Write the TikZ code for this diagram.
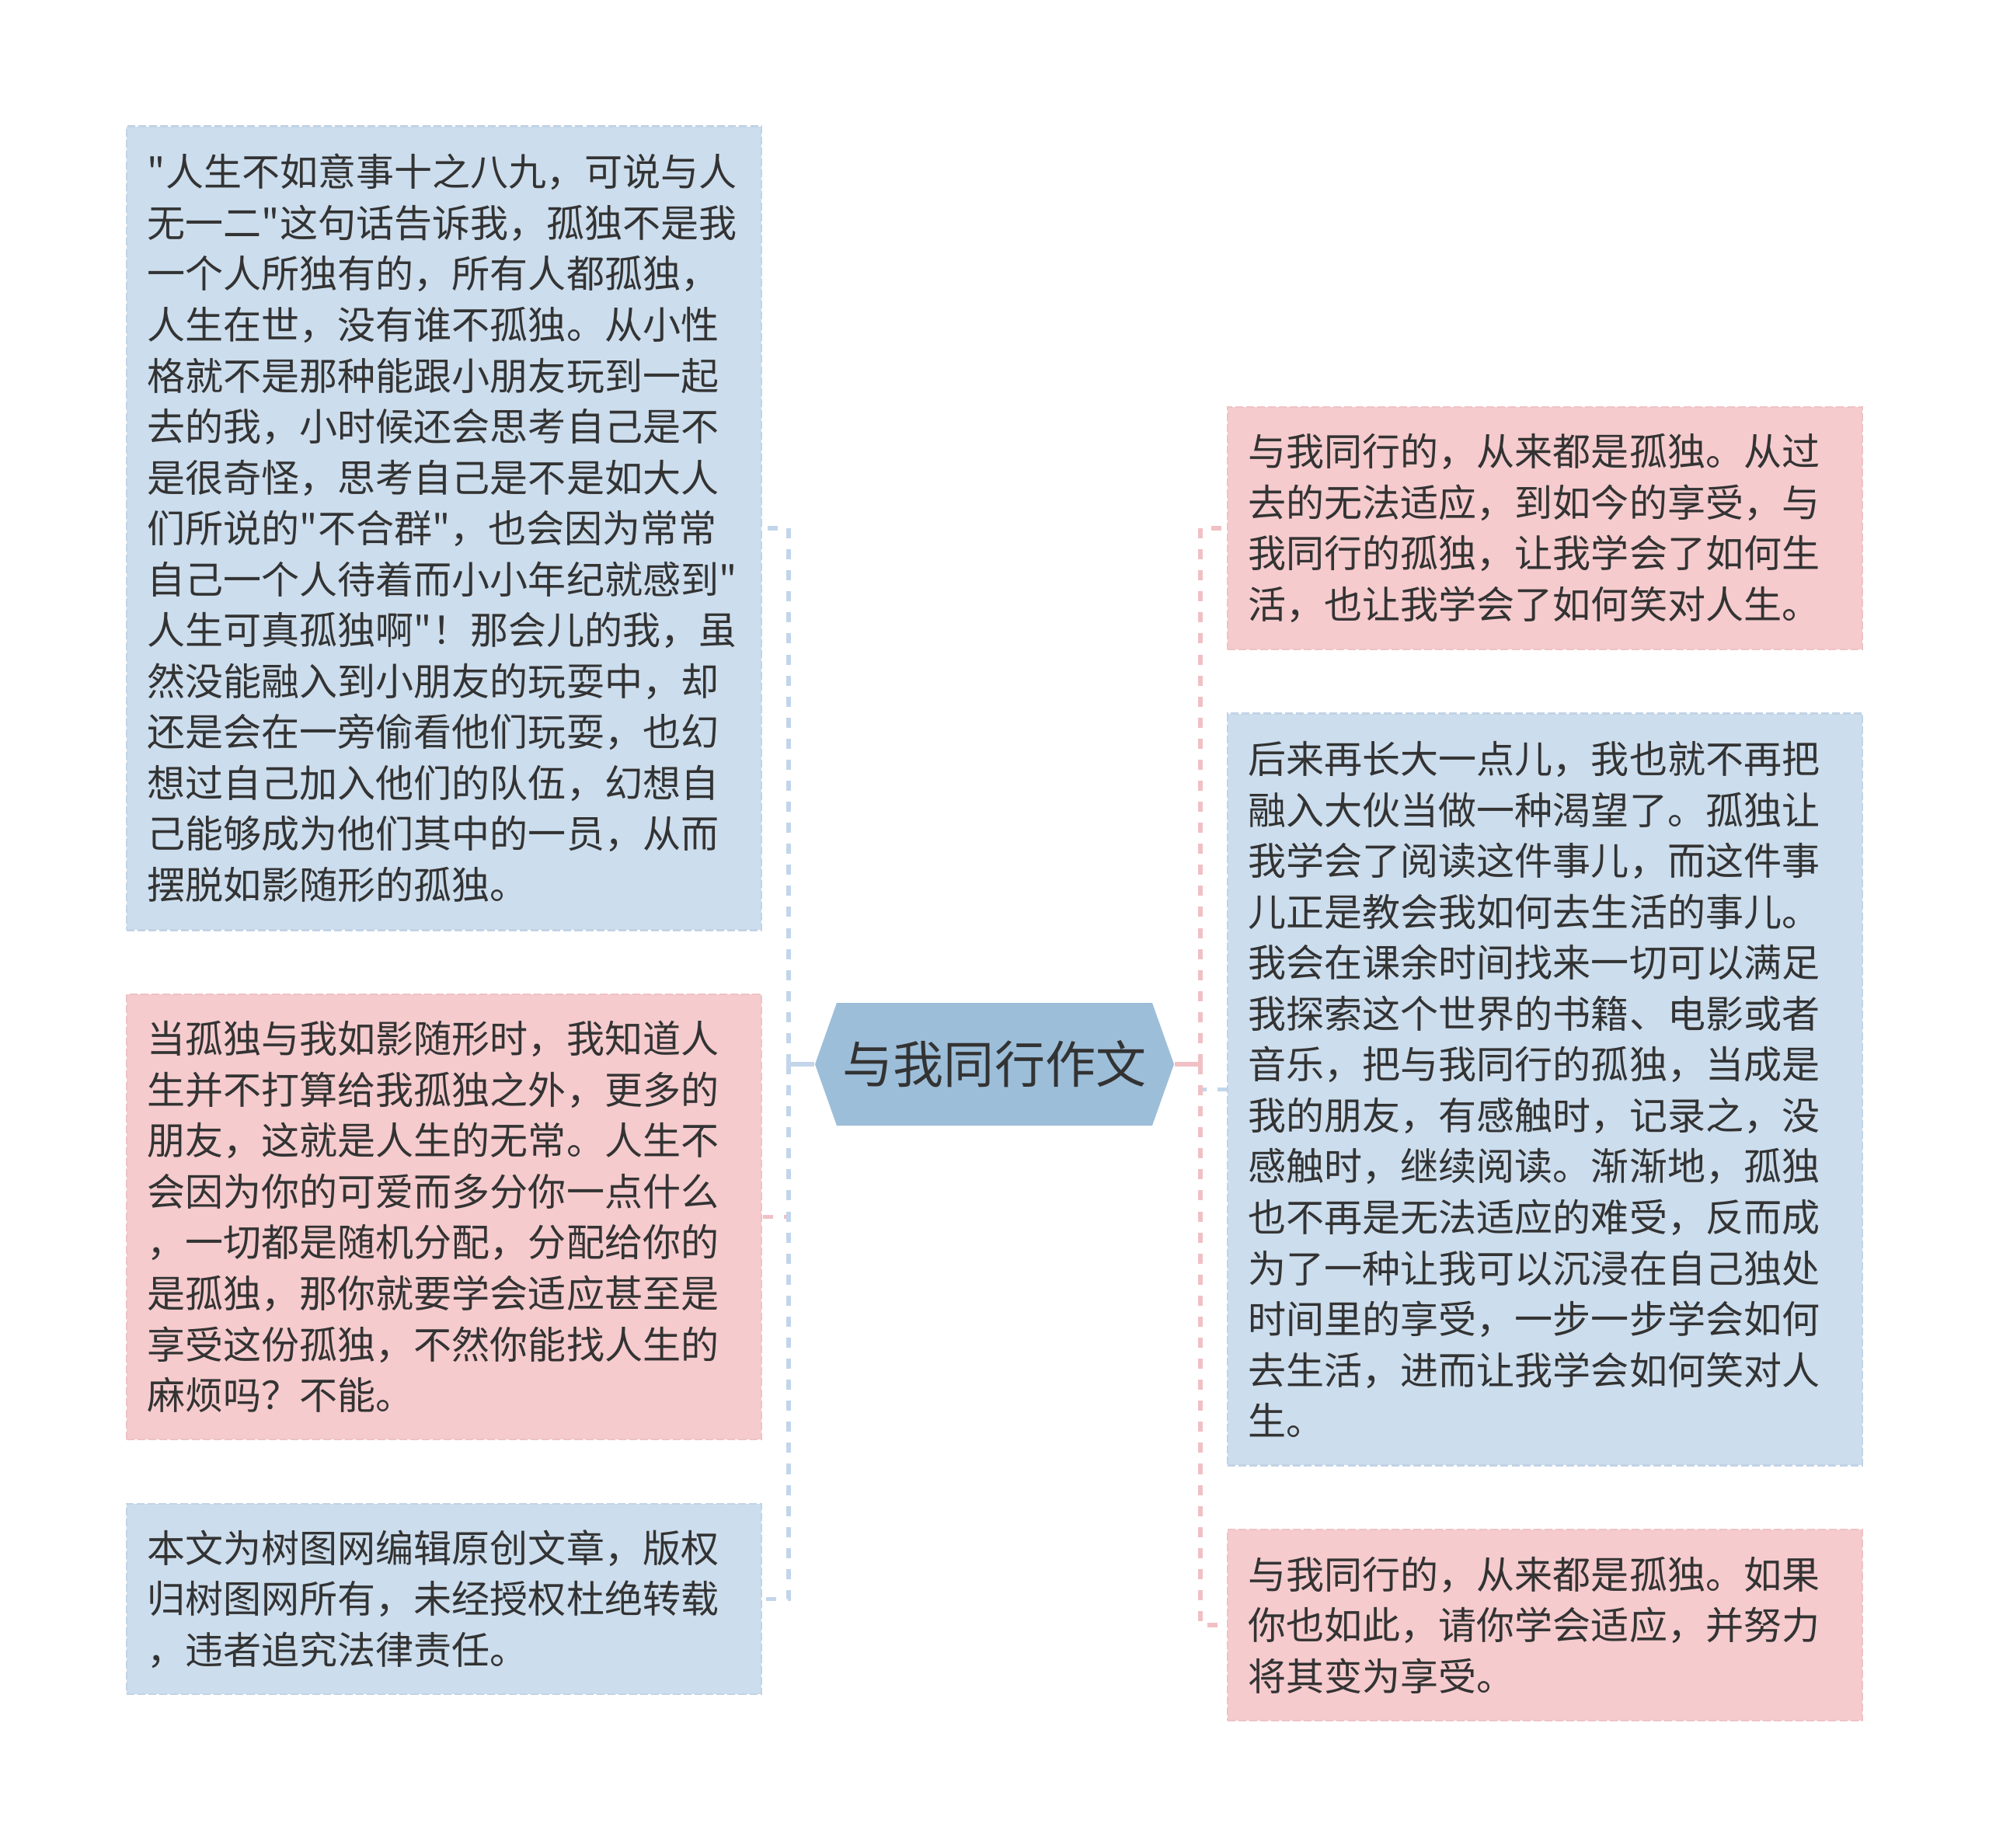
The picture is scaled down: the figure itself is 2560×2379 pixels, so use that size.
\documentclass[tikz,border=0pt]{standalone}
\usepackage{fontspec}
\setmainfont{Noto Sans CJK SC}[Ligatures=TeXOff]
\usetikzlibrary{positioning}

\definecolor{cardblue}{HTML}{CCDDED}
\definecolor{edgeblue}{HTML}{C2D3E6}
\definecolor{cardpink}{HTML}{F5CBCE}
\definecolor{edgepink}{HTML}{F0C2C5}
\definecolor{hexblue}{HTML}{9DBED9}
\definecolor{linkblue}{HTML}{C2D5EA}
\definecolor{linkpink}{HTML}{F1C0C4}
\definecolor{inkgray}{HTML}{333333}

\begin{document}
\begin{tikzpicture}[x=0.01cm, y=-0.01cm,
  card/.style={rectangle, inner xsep=0.27cm, inner ysep=0pt,
    text width=7.63cm, minimum width=8.17cm, align=left, text=inkgray,
    font=\fontsize{13.94pt}{18.64pt}\selectfont,
    line width=0.7pt, dash pattern=on 2.85pt off 1.15pt},
  bluecard/.style={card, fill=cardblue, draw=edgeblue},
  pinkcard/.style={card, fill=cardpink, draw=edgepink},
  titlebox/.style={rectangle, inner sep=0pt, minimum width=4.62cm,
    minimum height=1.58cm, text=inkgray, font=\fontsize{18.5pt}{22pt}\selectfont},
  stub/.style={line width=1.5pt},
  link/.style={line width=1.5pt, dash pattern=on 3.7pt off 4pt}]
  \useasboundingbox[fill=white] (0, 0) rectangle (2560, 2379);

  % centre
  \fill[hexblue] (1049, 1370) -- (1077, 1291) -- (1483, 1291) -- (1511, 1370)
    -- (1483, 1449) -- (1077, 1449) -- cycle;
  \node[titlebox] (title) at (1280, 1370) {与我同行作文};
  \coordinate (ljoin) at (1015, 1370);
  \coordinate (rjoin) at (1545, 1370);

  % left column
  \node[bluecard, minimum height=10.34cm] (left1) at (571.5, 680) {
    "人生不如意事十之八九，可说与人\\
    无一二"这句话告诉我，孤独不是我\\
    一个人所独有的，所有人都孤独，\\
    人生在世，没有谁不孤独。从小性\\
    格就不是那种能跟小朋友玩到一起\\
    去的我，小时候还会思考自己是不\\
    是很奇怪，思考自己是不是如大人\\
    们所说的"不合群"，也会因为常常\\
    自己一个人待着而小小年纪就感到"\\
    人生可真孤独啊"！那会儿的我，虽\\
    然没能融入到小朋友的玩耍中，却\\
    还是会在一旁偷看他们玩耍，也幻\\
    想过自己加入他们的队伍，幻想自\\
    己能够成为他们其中的一员，从而\\
    摆脱如影随形的孤独。};
  \node[pinkcard, minimum height=5.73cm] (left2) at (571.5, 1566.5) {
    当孤独与我如影随形时，我知道人\\
    生并不打算给我孤独之外，更多的\\
    朋友，这就是人生的无常。人生不\\
    会因为你的可爱而多分你一点什么\\
    ，一切都是随机分配，分配给你的\\
    是孤独，那你就要学会适应甚至是\\
    享受这份孤独，不然你能找人生的\\
    麻烦吗？不能。};
  \node[bluecard, minimum height=2.45cm] (left3) at (571.5, 2058.5) {
    本文为树图网编辑原创文章，版权\\
    归树图网所有，未经授权杜绝转载\\
    ，违者追究法律责任。};

  % right column
  \node[pinkcard, minimum height=3.12cm] (right1) at (1988.5, 680) {
    与我同行的，从来都是孤独。从过\\
    去的无法适应，到如今的享受，与\\
    我同行的孤独，让我学会了如何生\\
    活，也让我学会了如何笑对人生。};
  \node[bluecard, minimum height=9.67cm] (right2) at (1988.5, 1402.5) {
    后来再长大一点儿，我也就不再把\\
    融入大伙当做一种渴望了。孤独让\\
    我学会了阅读这件事儿，而这件事\\
    儿正是教会我如何去生活的事儿。\\
    我会在课余时间找来一切可以满足\\
    我探索这个世界的书籍、电影或者\\
    音乐，把与我同行的孤独，当成是\\
    我的朋友，有感触时，记录之，没\\
    感触时，继续阅读。渐渐地，孤独\\
    也不再是无法适应的难受，反而成\\
    为了一种让我可以沉浸在自己独处\\
    时间里的享受，一步一步学会如何\\
    去生活，进而让我学会如何笑对人\\
    生。};
  \node[pinkcard, minimum height=2.46cm] (right3) at (1988.5, 2092) {
    与我同行的，从来都是孤独。如果\\
    你也如此，请你学会适应，并努力\\
    将其变为享受。};

  % connectors
  \draw[link, linkpink] (ljoin) |- (left2.east);
  \draw[link, linkblue] (ljoin) |- (left1.east);
  \draw[link, linkblue] (ljoin) |- (left3.east);
  \draw[stub, linkblue] (title.west) -- (ljoin);
  \draw[link, linkblue] (rjoin) |- (right2.west);
  \draw[link, linkpink] (rjoin) |- (right1.west);
  \draw[link, linkpink] (rjoin) |- (right3.west);
  \draw[stub, linkpink] (title.east) -- (rjoin);
\end{tikzpicture}
\end{document}
